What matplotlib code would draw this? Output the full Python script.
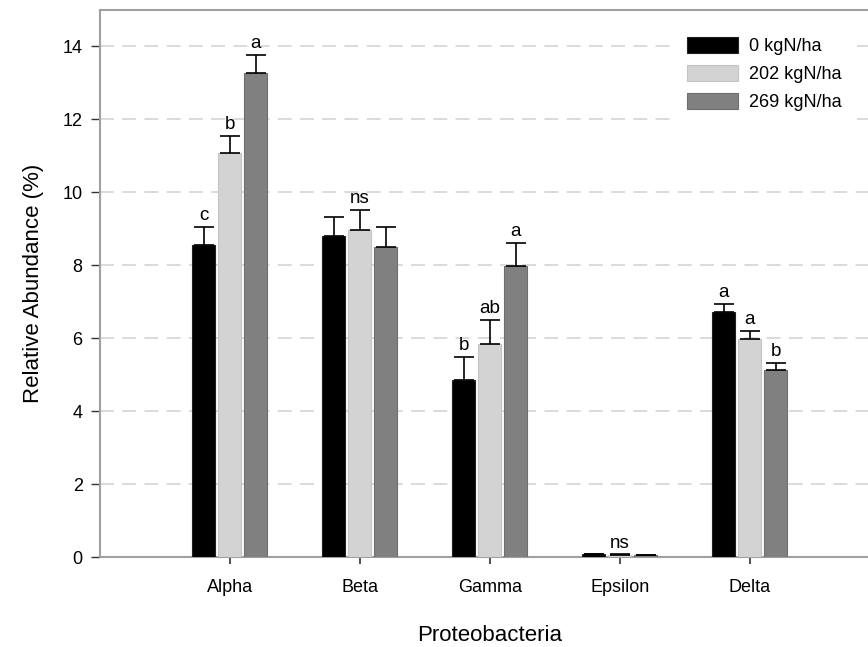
# Relative abundance of Proteobacteria classes under three N rates
import numpy as np
from matplotlib import pyplot as plt

plt.rcParams['font.family'] = ['Liberation Sans', 'DejaVu Sans']
plt.rcParams['lines.scale_dashes'] = False

# data
classes = ['Alpha', 'Beta', 'Gamma', 'Epsilon', 'Delta']
treatments = ['0 kgN/ha', '202 kgN/ha', '269 kgN/ha']

n0 = [8.55, 8.79, 4.85, 0.08, 6.72]
n202 = [11.07, 8.98, 5.85, 0.06, 5.99]
n269 = [13.28, 8.50, 7.98, 0.05, 5.12]

err0 = [0.50, 0.53, 0.64, 0.01, 0.23]
err202 = [0.48, 0.53, 0.64, 0.01, 0.21]
err269 = [0.48, 0.54, 0.64, 0.01, 0.19]

# significance letters (None = no letter)
let0 = ['c', None, 'b', None, 'a']
let202 = ['b', 'ns', 'ab', 'ns', 'a']
let269 = ['a', None, 'a', None, 'b']

colors = ['#000000', '#d3d3d3', '#808080']
edges = ['#222222', '#c4c4c4', '#6e6e6e']

fig = plt.figure(figsize=(8.68, 6.47), dpi=100)
ax = fig.add_axes([0.1152, 0.1391, 0.8986, 0.8454])

x = np.arange(1, len(classes) + 1)
w = 0.177
offsets = [-0.2, 0.0, 0.2]

series = [n0, n202, n269]
errs = [err0, err202, err269]
lets = [let0, let202, let269]

for i in range(3):
    pos = x + offsets[i]
    vals = np.array(series[i])
    e = np.array(errs[i])
    ax.bar(pos, vals, width=w, color=colors[i], edgecolor=edges[i],
           linewidth=0.8, label=treatments[i], zorder=3)
    ax.errorbar(pos, vals, yerr=[np.zeros_like(e), e], fmt='none',
                ecolor='black', elinewidth=1.2, capsize=7, capthick=1.2,
                zorder=4)
    for p, v, ee, t in zip(pos, vals, e, lets[i]):
        if t:
            ax.text(p, v + ee + 0.08, t, ha='center', va='bottom',
                    fontsize=13.5, zorder=5)

# axes styling
ax.set_xlim(0, 6)
ax.set_ylim(0, 15)
ax.set_yticks(np.arange(0, 15, 2))
ax.set_xticks(x)
ax.set_xticklabels(classes)
ax.tick_params(axis='y', direction='out', length=6.5, width=1, pad=6,
               labelsize=13, color='#333333')
ax.tick_params(axis='x', direction='out', length=5, width=1.2, pad=11,
               labelsize=13, color='#333333')

for s in ['left', 'top', 'bottom']:
    ax.spines[s].set_color('#a0a0a0')
    ax.spines[s].set_linewidth(1.5)
ax.spines['right'].set_visible(False)

ax.yaxis.grid(True, color='#d4d4d4', linewidth=1.2, linestyle=(0, (10, 6)),
              zorder=0)
ax.set_axisbelow(True)

ax.set_xlabel('Proteobacteria', fontsize=16)
ax.xaxis.set_label_coords(0.5, -0.124)
ax.set_ylabel('Relative Abundance (%)', fontsize=16)
ax.yaxis.set_label_coords(-0.072, 0.5)

# legend sits on a white, borderless box that hides the upper gridlines
leg = ax.legend(loc='upper left', bbox_to_anchor=(672 / 868, 1 - 22 / 647),
                bbox_transform=fig.transFigure, frameon=True, fontsize=13,
                handlelength=2.8, handleheight=0.95, labelspacing=0.55,
                handletextpad=0.6, borderpad=0.85, borderaxespad=0,
                fancybox=False, facecolor='white', edgecolor='none',
                framealpha=1)
leg.set_zorder(6)

fig.savefig('out.png', dpi=100)
